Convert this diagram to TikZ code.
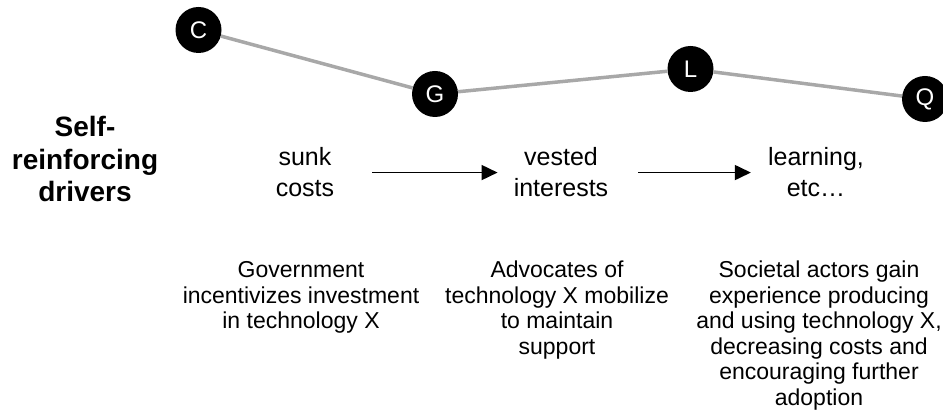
\documentclass[tikz,border=0pt]{standalone}
\usepackage{fontspec}
\setmainfont{Liberation Sans}
\usetikzlibrary{arrows.meta}
\definecolor{pathgray}{HTML}{A8A8A8}

\begin{document}
\begin{tikzpicture}[x=1pt,y=-1pt,
  dot/.style={circle,fill=black,minimum size=46pt,inner sep=0pt,text=white,
    font=\fontsize{24}{24}\selectfont},
  trajectory/.style={draw=pathgray,line width=3.5pt},
  % multi-line nodes are anchored at the baseline of their last line
  driver/.style={align=center,inner sep=0pt,anchor=base,font=\fontsize{25}{31}\selectfont},
  heading/.style={align=center,inner sep=0pt,anchor=base,font=\fontsize{28}{32.5}\selectfont\bfseries},
  note/.style={align=center,inner sep=0pt,anchor=base,font=\fontsize{23}{25.5}\selectfont},
  flow/.style={-{Triangle[length=16pt,width=15pt]},line width=1.7pt}]

\useasboundingbox (0,0) rectangle (943,419);

% path of the system through successive states
\node[dot] (C) at (198.5,30) {C};
\node[dot] (G) at (435,94) {G};
\node[dot] (L) at (690.5,69) {L};
\node[dot] (Q) at (925,99) {Q};
\draw[trajectory] (C) -- (G) -- (L) -- (Q);

% row label
\node[heading] (label) at (85,202) {Self-\\reinforcing\\drivers};

% drivers
\node[driver] (sunk) at (305,197) {sunk\\costs};
\node[driver] (vested) at (561,197) {vested\\interests};
\node[driver] (learn) at (816,197) {learning,\\etc…};

\draw[flow,shorten <=38pt,shorten >=16pt] (sunk.east) -- (sunk.east -| vested.west);
\draw[flow,shorten <=30pt,shorten >=17pt] (vested.east) -- (vested.east -| learn.west);

% explanations
\node[note] (gov) at (301,329) {Government\\incentivizes investment\\in technology X};
\node[note] (adv) at (557,354.5) {Advocates of\\technology X mobilize\\to maintain\\support};
\node[note] (soc) at (819,405.5) {Societal actors gain\\experience producing\\and using technology X,\\decreasing costs and\\encouraging further\\adoption};
\end{tikzpicture}
\end{document}
